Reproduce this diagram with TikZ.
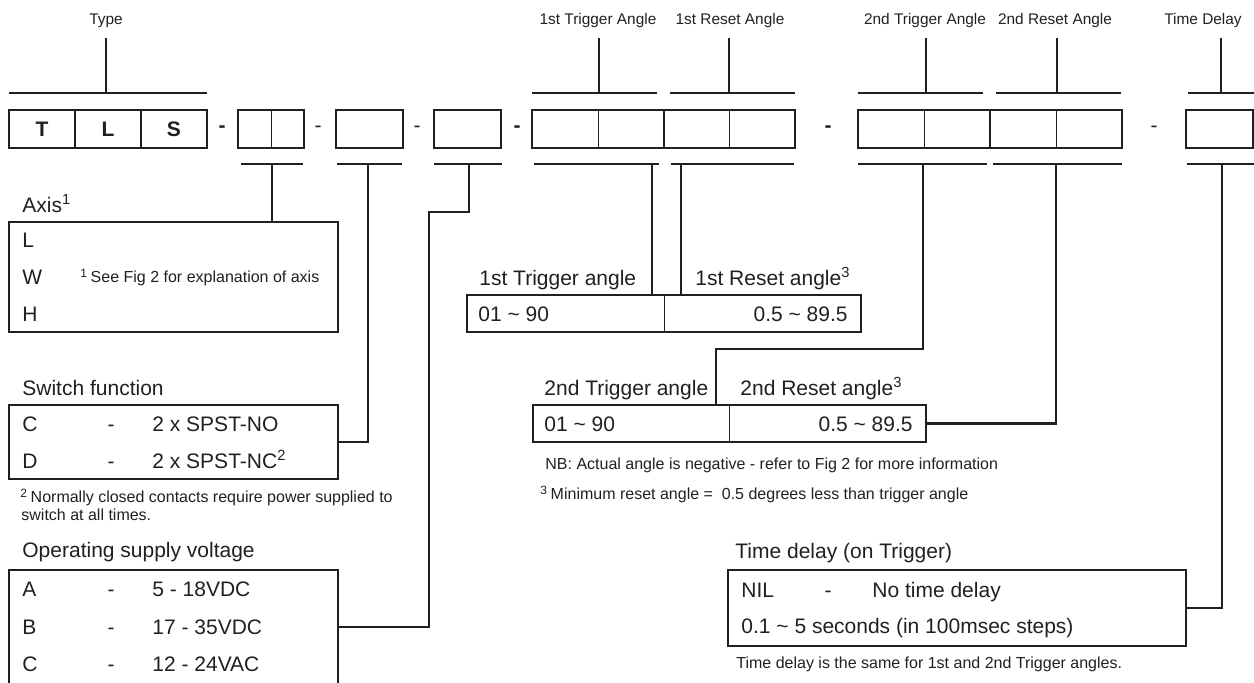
\documentclass[tikz,border=0pt]{standalone}
\usepackage{fontspec}
\setmainfont{Liberation Sans}
\definecolor{ink}{HTML}{231F20}

\begin{document}
\begin{tikzpicture}[x=0.5pt, y=-0.5pt, color=ink,
  box/.style={draw, line width=1.4pt, inner sep=0pt},
  bar/.style={line width=1.3pt},
  lead/.style={line width=1.2pt},
  divider/.style={line width=0.5pt},
  big/.style={inner sep=0pt, anchor=west, font=\fontsize{10.5}{12}\selectfont, text height=7.5pt, text depth=0pt},
  small/.style={inner sep=0pt, anchor=west, font=\fontsize{8}{9.6}\selectfont, text height=5.7pt, text depth=0pt},
  head/.style={inner sep=0pt, font=\fontsize{7.7}{9}\selectfont, text height=5.5pt, text depth=0pt}]

  \useasboundingbox (0,0) rectangle (1254,682);

  % part number boxes
  \foreach \l/\x in {T/42, L/108, S/174}
    \node[box, minimum width=33pt, minimum height=19pt, font=\fontsize{10.5}{12}\selectfont\bfseries] (c\l) at (\x,129) {\l};
  \node[box, minimum width=33pt, minimum height=19pt] (cAxis) at (271,129) {};
  \node[box, minimum width=33.5pt, minimum height=19pt] (cSwitch) at (369.5,129) {};
  \node[box, minimum width=33.5pt, minimum height=19pt] (cSupply) at (467.5,129) {};
  \node[box, minimum width=66pt, minimum height=19pt] (cTrig1) at (598,129) {};
  \node[box, minimum width=65.5pt, minimum height=19pt] (cReset1) at (729.5,129) {};
  \node[box, minimum width=66pt, minimum height=19pt] (cTrig2) at (924,129) {};
  \node[box, minimum width=66pt, minimum height=19pt] (cReset2) at (1056,129) {};
  \node[box, minimum width=33.5pt, minimum height=19pt] (cDelay) at (1219.5,129) {};
  \foreach \n in {cAxis, cTrig1, cReset1, cTrig2, cReset2}
    \draw[divider] (\n.north) -- (\n.south);

  % dashes between the boxes
  \foreach \x/\w [count=\i] in {222/\bfseries, 318/, 417/, 517/\bfseries, 828/\bfseries, 1154/}
    \node[inner sep=0pt, font=\fontsize{10.5}{12}\selectfont\w] (dash\i) at (\x,129) {-};

  % headings over the boxes
  \foreach \nm/\lab/\lx/\vx/\xa/\xb in {type/Type/106/106/9/207,
      trig1/1st Trigger Angle/598/599/532/657, reset1/1st Reset Angle/730/729/670/795,
      trig2/2nd Trigger Angle/925/926/858/983, reset2/2nd Reset Angle/1055/1057/996/1121,
      delay/Time Delay/1203/1221/1188/1254} {
    \node[head] (h\nm) at (\lx,19) {\lab};
    \draw[bar] (\xa,93) -- (\xb,93);
    \draw[bar] (\vx,93) -- (\vx,38);
  }

  % brackets under the boxes
  \foreach \nm/\vx/\xa/\xb in {axis/272/241/303, switch/368/337/402, supply/469/434/502,
      trig1/652/534/659, reset1/681/671/794, trig2/923/858/987, reset2/1056/993/1122,
      delay/1222/1187/1254} {
    \draw[bar] (\xa,164) -- (\xb,164);
    \coordinate (b\nm) at (\vx,164);
  }

  % option tables
  \node[box, minimum width=164.5pt, minimum height=55pt] (axisbox) at (173.5,277) {};
  \node[box, minimum width=164.5pt, minimum height=37pt] (switchbox) at (173.5,442) {};
  \node[box, minimum width=164.5pt, minimum height=57pt] (supplybox) at (173.5,627) {};
  \node[box, minimum width=197pt, minimum height=18.5pt] (angbox1) at (664,313.5) {};
  \node[box, minimum width=196.5pt, minimum height=18.5pt] (angbox2) at (729.5,423.5) {};
  \node[box, minimum width=229pt, minimum height=38pt] (delaybox) at (957,608) {};
  \draw[divider] (angbox1.north) -- (angbox1.south);
  \draw[divider] (angbox2.north) -- (angbox2.south);

  % leads from brackets to tables
  \coordinate (kink1) at (429,212);
  \coordinate (kink2) at (716,349);
  \draw[lead] (baxis) -- (baxis |- axisbox.north);
  \draw[lead] (bswitch) |- (switchbox.east);
  \draw[lead] (bsupply) |- (kink1) |- (supplybox.east);
  \draw[lead] (btrig1) -- (btrig1 |- angbox1.north);
  \draw[lead] (breset1) -- (breset1 |- angbox1.north);
  \draw[lead] (btrig2) |- (kink2) -- (kink2 |- angbox2.north);
  \draw[lead] (breset2) |- (angbox2.east);
  \draw[lead] (bdelay) |- (delaybox.east);

  % axis
  \node[big] (axishead) at (22,205) {Axis\textsuperscript{1}};
  \foreach \l/\y in {L/240, W/277, H/314}
    \node[big] (axis\l) at (22,\y) {\l};
  \node[small] (axisnote) at (80,277) {\textsuperscript{1}\,See Fig 2 for explanation of axis};

  % switch function
  \node[big] (switchhead) at (22,388) {Switch function};
  \foreach \l/\t/\y in {C/2 x SPST-NO/424, D/2 x SPST-NC\textsuperscript{2}/461} {
    \node[big] (sw\l) at (22,\y) {\l};
    \node[big, anchor=center] (sw\l-dash) at (111,\y) {-};
    \node[big] (sw\l-text) at (152,\y) {\t};
  }
  \node[small] (note2a) at (20,497) {\textsuperscript{2}\,Normally closed contacts require power supplied to};
  \node[small] (note2b) at (21,515) {switch at all times.};

  % supply voltage
  \node[big] (supplyhead) at (22,550) {Operating supply voltage};
  \foreach \l/\t/\y in {A/5 - 18VDC/589, B/17 - 35VDC/627, C/12 - 24VAC/664} {
    \node[big] (sup\l) at (22,\y) {\l};
    \node[big, anchor=center] (sup\l-dash) at (111,\y) {-};
    \node[big] (sup\l-text) at (152,\y) {\t};
  }

  % trigger and reset angles
  \node[big] (trig1head) at (479,278) {1st Trigger angle};
  \node[big] (reset1head) at (695,278) {1st Reset angle\textsuperscript{3}};
  \node[big] (trig1val) at (478,313.5) {01 \textasciitilde{} 90};
  \node[big, anchor=east] (reset1val) at (848,313.5) {0.5 \textasciitilde{} 89.5};
  \node[big] (trig2head) at (544,388) {2nd Trigger angle};
  \node[big] (reset2head) at (740,388) {2nd Reset angle\textsuperscript{3}};
  \node[big] (trig2val) at (544,423.5) {01 \textasciitilde{} 90};
  \node[big, anchor=east] (reset2val) at (913,423.5) {0.5 \textasciitilde{} 89.5};
  \node[small] (nbnote) at (545,464) {NB: Actual angle is negative - refer to Fig 2 for more information};
  \node[small] (note3) at (540,494) {\textsuperscript{3}\,Minimum reset angle = \ 0.5 degrees less than trigger angle};

  % time delay
  \node[big] (delayhead) at (735,551) {Time delay (on Trigger)};
  \node[big] (nil) at (741,590) {NIL};
  \node[big, anchor=center] (nildash) at (828,590) {-};
  \node[big] (niltext) at (872,590) {No time delay};
  \node[big] (steps) at (741,626) {0.1 \textasciitilde{} 5 seconds (in 100msec steps)};
  \node[small] (delaynote) at (736,663) {Time delay is the same for 1st and 2nd Trigger angles.};

\end{tikzpicture}
\end{document}
